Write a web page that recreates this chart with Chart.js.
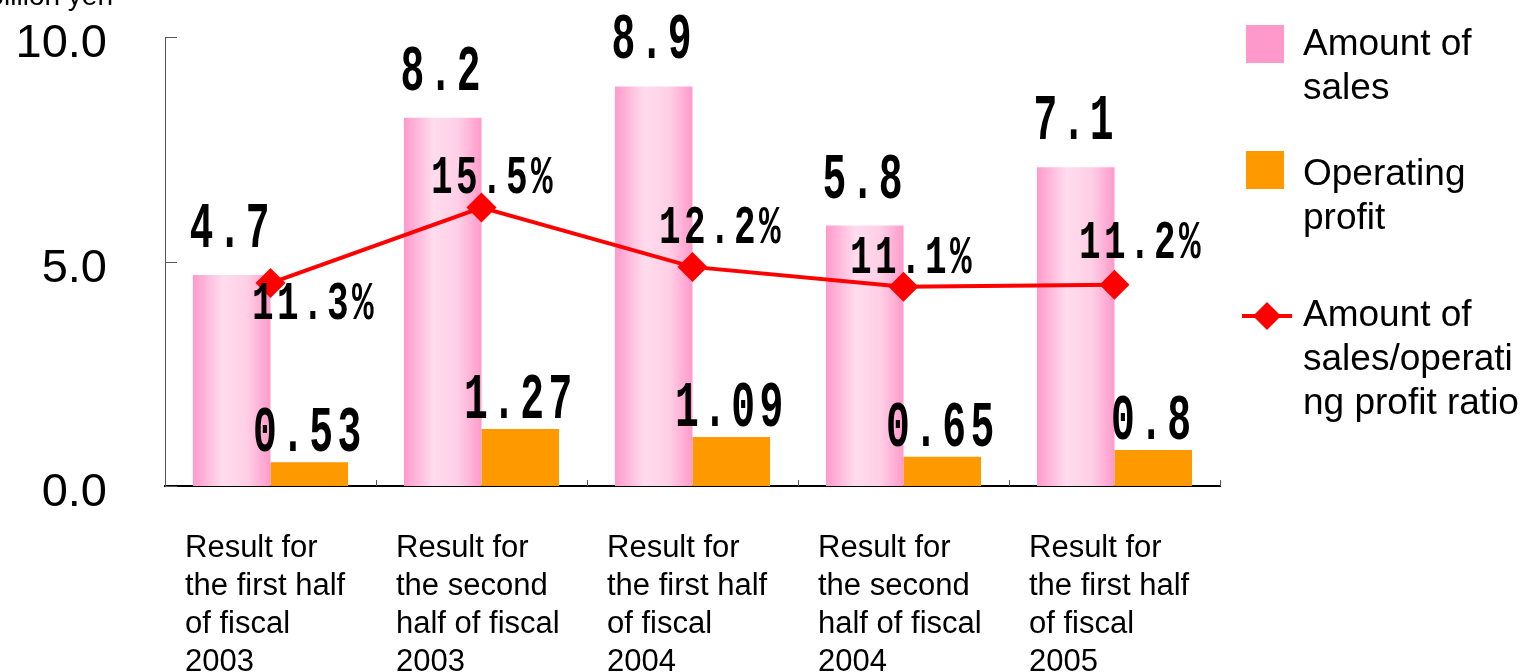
<!DOCTYPE html>
<html>
<head>
<meta charset="utf-8">
<script src="https://cdn.jsdelivr.net/npm/chart.js@4"></script>
<style>
	html, body { margin: 0; padding: 0; background: #fff; }
	#wrap { width: 1535px; height: 672px; }
</style>
</head>
<body>
<div id="wrap"><canvas id="salesChart" width="1535" height="672"></canvas></div>
<script>
const periods = [
	[ 'Result for', 'the first half', 'of fiscal', '2003' ],
	[ 'Result for', 'the second', 'half of fiscal', '2003' ],
	[ 'Result for', 'the first half', 'of fiscal', '2004' ],
	[ 'Result for', 'the second', 'half of fiscal', '2004' ],
	[ 'Result for', 'the first half', 'of fiscal', '2005' ]
]
const salesAmount = [ 4.7, 8.2, 8.9, 5.8, 7.1 ]
const operatingProfit = [ 0.53, 1.27, 1.09, 0.65, 0.8 ]
const profitRatio = [ 11.3, 15.5, 12.2, 11.1, 11.2 ]
const salesText = [ '4.7', '8.2', '8.9', '5.8', '7.1' ]
const profitText = [ '0.53', '1.27', '1.09', '0.65', '0.8' ]
const yTicks = [ 0, 5, 10 ]

// nudges for the ratio labels, relative to each diamond
const ratioLabelShift = [ [ 44, 19 ], [ 12, -32 ], [ 29, -41 ], [ 9, -31 ], [ 27, -44 ] ]

const pinkBar = (context) => {
	const chart = context.chart
	const xScale = chart.scales.x
	if (!xScale || !chart.chartArea) return '#ff9ccc'
	const catW = xScale.width / periods.length
	const barW = catW * 0.735 / 2
	const left = xScale.getPixelForValue( context.dataIndex ) - barW
	const g = chart.ctx.createLinearGradient( left, 0, left + barW, 0 )
	g.addColorStop( 0, '#ff9acb' )
	g.addColorStop( 0.38, '#ffdcee' )
	g.addColorStop( 0.7, '#ffcfe6' )
	g.addColorStop( 1, '#ff9acb' )
	return g
}

const condensed = (ctx, text, x, y, font, sx, spacing, align) => {
	ctx.save()
	ctx.translate( x, y )
	ctx.scale( sx, 1 )
	ctx.font = font
	ctx.letterSpacing = spacing
	ctx.textAlign = align
	ctx.textBaseline = 'alphabetic'
	ctx.fillStyle = '#000'
	ctx.fillText( text, 0, 0 )
	ctx.restore()
}

const extras = {
	id: 'extras',
	afterDatasetsDraw(chart) {
		const ctx = chart.ctx
		const x = chart.scales.x
		const y = chart.scales.y
		const area = chart.chartArea

		// inward tick marks
		ctx.save()
		ctx.strokeStyle = '#555'
		ctx.lineWidth = 1
		yTicks.forEach( v => {
			const py = Math.round( y.getPixelForValue( v ) ) + 0.5
			ctx.beginPath()
			ctx.moveTo( area.left, py )
			ctx.lineTo( area.left + 12, py )
			ctx.stroke()
		} )
		const catW = x.width / periods.length
		for (let i = 1; i <= periods.length; i++) {
			const px = Math.round( area.left + catW * i ) + 0.5
			ctx.beginPath()
			ctx.moveTo( px, area.bottom )
			ctx.lineTo( px, area.bottom - 6 )
			ctx.stroke()
		}
		ctx.restore()

		// y tick labels
		yTicks.forEach( v => {
			condensed( ctx, v.toFixed( 1 ), 107, y.getPixelForValue( v ) + 20, '47px "Liberation Sans", Arial', 1, '0px', 'right' )
		} )

		// unit
		ctx.save()
		ctx.font = '28px "Liberation Sans", Arial, sans-serif'
		ctx.fillStyle = '#000'
		ctx.textAlign = 'right'
		ctx.fillText( 'Billion yen', 113, 5 )
		ctx.restore()

		// category labels
		ctx.save()
		ctx.font = '31px "Liberation Sans", Arial, sans-serif'
		ctx.fillStyle = '#000'
		ctx.textAlign = 'left'
		periods.forEach( (lines, i) => {
			const left = x.getPixelForValue( i ) - catW / 2 + 20
			lines.forEach( (t, j) => ctx.fillText( t, left, 557 + j * 38 ) )
		} )
		ctx.restore()

		// bar values
		const salesMeta = chart.getDatasetMeta( 0 )
		const profitMeta = chart.getDatasetMeta( 1 )
		salesMeta.data.forEach( (bar, i) => {
			condensed( ctx, salesText[i], bar.x, bar.y - 28, 'bold 64px "Liberation Mono"', 0.62, '7px', 'center' )
		} )
		profitMeta.data.forEach( (bar, i) => {
			condensed( ctx, profitText[i], bar.x, bar.y - 11, 'bold 64px "Liberation Mono"', 0.62, '7px', 'center' )
		} )

		// ratio labels
		const ratioMeta = chart.getDatasetMeta( 2 )
		ratioMeta.data.forEach( (pt, i) => {
			const s = ratioLabelShift[i]
			condensed( ctx, profitRatio[i].toFixed( 1 ) + '%', pt.x + s[0], pt.y + s[1] + 17, 'bold 53px "Liberation Mono"', 0.68, '5px', 'center' )
		} )

		// legend
		ctx.save()
		ctx.fillStyle = '#ff99cc'
		ctx.fillRect( 1246, 25, 38, 38 )
		ctx.fillStyle = '#ff9900'
		ctx.fillRect( 1246, 151, 38, 38 )
		ctx.strokeStyle = '#ff0000'
		ctx.lineWidth = 4
		ctx.beginPath()
		ctx.moveTo( 1242, 316 )
		ctx.lineTo( 1292, 316 )
		ctx.stroke()
		ctx.fillStyle = '#ff0000'
		ctx.beginPath()
		ctx.moveTo( 1267, 302 )
		ctx.lineTo( 1281, 316 )
		ctx.lineTo( 1267, 330 )
		ctx.lineTo( 1253, 316 )
		ctx.closePath()
		ctx.fill()
		ctx.font = '37px "Liberation Sans", Arial, sans-serif'
		ctx.fillStyle = '#000'
		ctx.textAlign = 'left'
		const legendText = [
			[ 'Amount of', 'sales' ],
			[ 'Operating', 'profit' ],
			[ 'Amount of', 'sales/operati', 'ng profit ratio' ]
		]
		const legendTop = [ 55, 185, 326 ]
		legendText.forEach( (lines, i) => {
			lines.forEach( (t, j) => ctx.fillText( t, 1303, legendTop[i] + j * 44 ) )
		} )
		ctx.restore()
	}
}

const chartEl = document.getElementById( 'salesChart' )
new Chart( chartEl, {
	type: 'bar',
	data: {
		labels: periods,
		datasets: [ {
			label: 'Amount of sales',
			data: salesAmount,
			backgroundColor: pinkBar,
			borderWidth: 0,
			order: 2
		}, {
			label: 'Operating profit',
			data: operatingProfit,
			backgroundColor: '#ff9900',
			borderWidth: 0,
			order: 2
		}, {
			type: 'line',
			label: 'Amount of sales/operating profit ratio',
			data: profitRatio,
			yAxisID: 'y1',
			borderColor: '#ff0000',
			backgroundColor: '#ff0000',
			borderWidth: 4,
			pointStyle: 'rectRot',
			pointRadius: 15,
			pointBorderWidth: 0,
			tension: 0,
			order: 1
		} ]
	},
	options: {
		responsive: false,
		animation: false,
		events: [],
		datasets: {
			bar: {
				categoryPercentage: 0.735,
				barPercentage: 1
			}
		},
		layout: {
			padding: { top: 37, right: 315, left: 0, bottom: 0 }
		},
		scales: {
			x: {
				grid: { display: false },
				ticks: { display: false },
				border: { color: '#000', width: 2 },
				afterFit: (scale) => { scale.height = 186 }
			},
			y: {
				min: 0,
				max: 10,
				ticks: { display: false, stepSize: 5 },
				grid: { display: false },
				border: { color: '#555', width: 1 },
				afterFit: (scale) => { scale.width = 165 }
			},
			y1: {
				display: false,
				min: 0,
				max: 25
			}
		},
		plugins: {
			legend: { display: false },
			tooltip: { enabled: false }
		}
	},
	plugins: [ extras ]
} )
</script>
</body>
</html>
